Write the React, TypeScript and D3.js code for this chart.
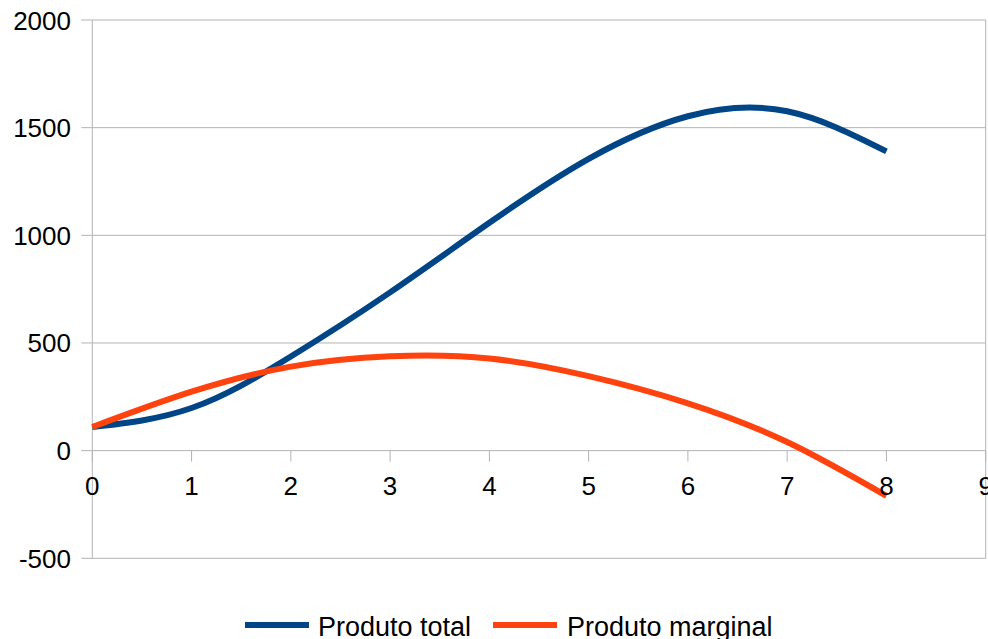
import React from "react";
import * as d3 from "d3";

const xValues = [0, 1, 2, 3, 4, 5, 6, 7, 8];
const produtoTotal = [110, 198, 437, 735, 1058, 1355, 1553, 1576, 1390];
const produtoMarginal = [110, 274, 390, 438, 428, 346, 220, 40, -210];
const xTicks = [0, 1, 2, 3, 4, 5, 6, 7, 8, 9];
const yTicks = [-500, 0, 500, 1000, 1500, 2000];
const seriesNames = ["Produto total", "Produto marginal"];
const seriesColors = ["#004586", "#ff420e"];

const W = 988;
const H = 639;
const left = 92.3;
const right = 985.7;
const top = 20;
const bottom = 558.3;
const font = "'Liberation Sans', Arial, sans-serif";
const gridColor = "#b3b3b3";

export default function App() {
  const x = d3.scaleLinear().domain([0, 9]).range([left, right]);
  const y = d3.scaleLinear().domain([-500, 2000]).range([bottom, top]);
  const line = d3
    .line<number>()
    .x((_, i) => x(xValues[i]))
    .y((d) => y(d))
    .curve(d3.curveNatural);
  const series = [produtoTotal, produtoMarginal];
  const y0 = y(0);
  const legendItems = [
    { lx: 245, tx: 318 },
    { lx: 493, tx: 567 },
  ];

  return (
    <svg
      width={W}
      height={H}
      style={{ position: "absolute", left: 0, top: 0, background: "#fff" }}
      fontFamily={font}
    >
      {yTicks.map((t) => (
        <g key={"y" + t}>
          <line x1={left - 11} x2={right} y1={y(t)} y2={y(t)} stroke={gridColor} strokeWidth={1} />
          <text x={71} y={y(t) + 9.5} textAnchor="end" fontSize={26} fill="#000">
            {t}
          </text>
        </g>
      ))}
      <line x1={left} x2={left} y1={top} y2={bottom} stroke={gridColor} strokeWidth={1} />
      <line x1={right} x2={right} y1={top} y2={bottom} stroke={gridColor} strokeWidth={1} />
      {xTicks.map((t) => (
        <g key={"x" + t}>
          <line x1={x(t)} x2={x(t)} y1={y0} y2={y0 + 11} stroke={gridColor} strokeWidth={1} />
        </g>
      ))}
      {series.map((s, i) => (
        <path key={"s" + i} d={line(s) || ""} fill="none" stroke={seriesColors[i]} strokeWidth={6} />
      ))}
      {xTicks.map((t) => (
        <text key={"xl" + t} x={x(t)} y={495} textAnchor="middle" fontSize={26} fill="#000">
          {t}
        </text>
      ))}
      {legendItems.map((it, i) => (
        <g key={"lg" + i}>
          <line x1={it.lx} x2={it.lx + 64} y1={625} y2={625} stroke={seriesColors[i]} strokeWidth={6} />
          <text x={it.tx} y={636} fontSize={27} fill="#000">
            {seriesNames[i]}
          </text>
        </g>
      ))}
    </svg>
  );
}
